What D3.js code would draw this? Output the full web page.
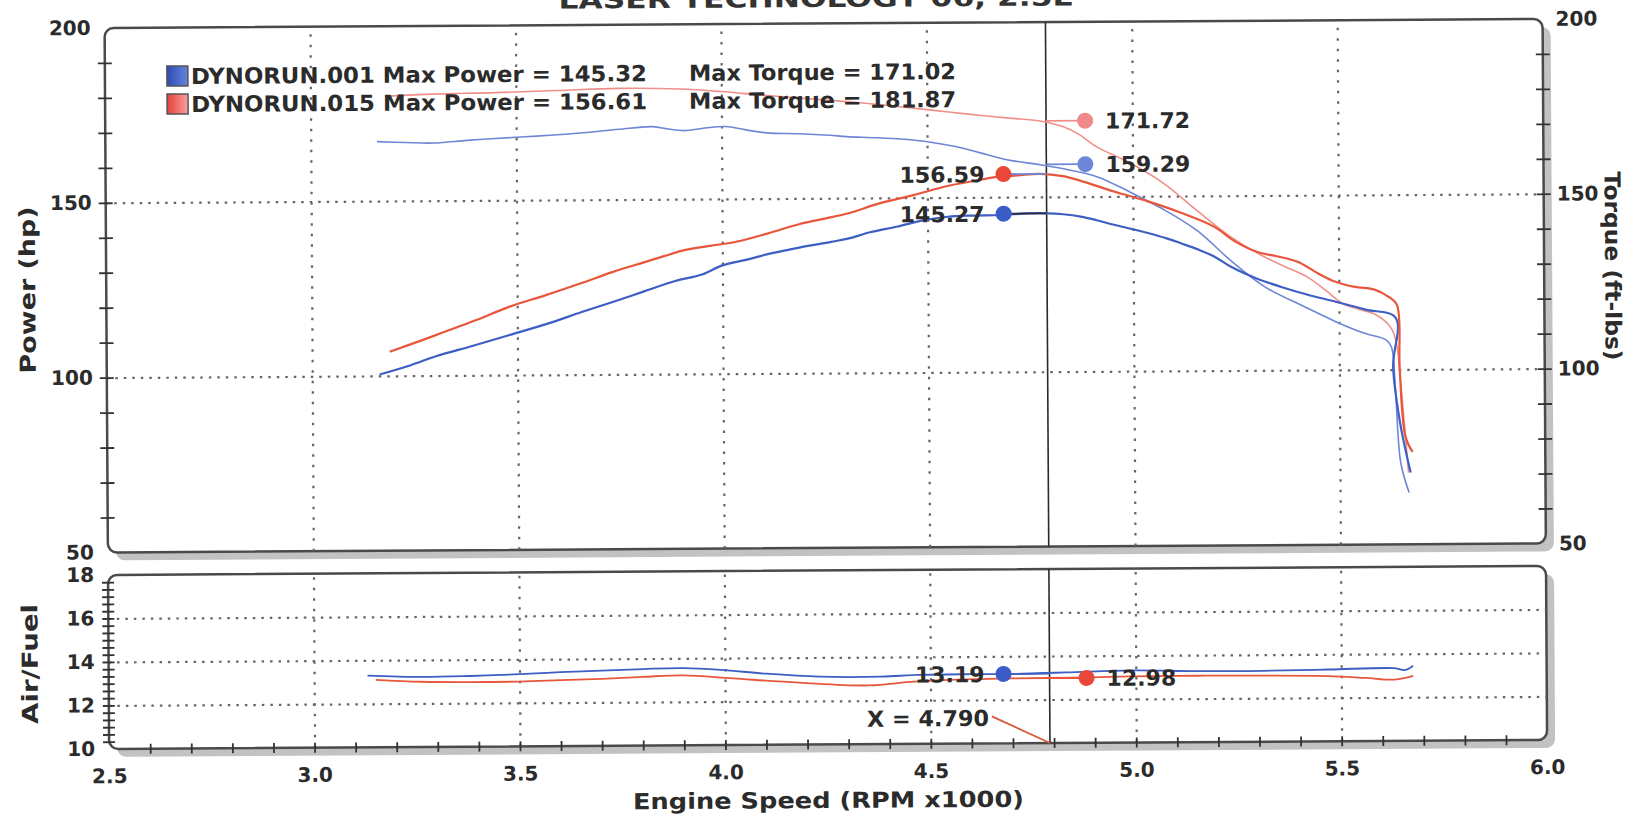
<!DOCTYPE html>
<html>
<head>
<meta charset="utf-8">
<script src="https://cdn.jsdelivr.net/npm/d3@7"></script>
<style>
body { margin: 0; background: #fff; }
svg { display: block; font-family: "DejaVu Sans", Verdana, sans-serif; font-weight: bold; }
</style>
</head>
<body>
<div id="dyno"></div>
<script>
// values
const rpmTicks = [2.5, 3.0, 3.5, 4.0, 4.5, 5.0, 5.5, 6.0];
const powerTicks = [50, 100, 150, 200];
const afrTicks = [10, 12, 14, 16, 18];
const gridRpm = [3.0, 3.5, 4.0, 4.5, 5.0, 5.5];
const gridPower = [100, 150];
const gridAfr = [12, 14, 16];

const runNames = ["DYNORUN.001", "DYNORUN.015"];
const maxPower = [145.32, 156.61];
const maxTorque = [171.02, 181.87];

const cursorRpm = 4.790;
const cursorPower = [145.27, 156.59];
const cursorTorque = [159.29, 171.72];
const cursorAfr = [13.19, 12.98];

// [rpm x1000, value]
const run001Power = [[3.164,100.4],[3.24,103.0],[3.303,105.6],[3.39,108.4],[3.479,111.4],[3.57,114.5],[3.657,117.9],[3.74,121.0],[3.809,123.7],[3.885,126.6],[3.95,128.4],[4.0,131.0],[4.06,132.6],[4.113,134.2],[4.19,136.0],[4.265,137.5],[4.306,138.4],[4.36,140.2],[4.427,141.8],[4.49,143.5],[4.549,144.5],[4.61,144.8],[4.678,144.9],[4.74,145.3],[4.792,145.3],[4.83,145.0],[4.873,144.3],[4.91,143.3],[4.954,141.9],[5.0,140.6],[5.036,139.5],[5.08,138.0],[5.116,136.5],[5.16,134.6],[5.198,132.6],[5.239,129.6],[5.30,126.3],[5.358,123.9],[5.42,121.7],[5.492,119.5],[5.565,117.2],[5.638,114.8],[5.631,100.8],[5.647,84.8],[5.672,70.5]];
const run001Torque = [[3.161,167.0],[3.23,166.7],[3.30,166.5],[3.38,167.2],[3.45,167.7],[3.55,168.3],[3.655,169.1],[3.75,170.1],[3.832,170.8],[3.87,170.1],[3.91,169.6],[3.96,170.3],[4.01,170.7],[4.06,169.7],[4.11,168.8],[4.19,168.5],[4.263,168.0],[4.304,167.6],[4.38,167.2],[4.466,166.5],[4.52,165.6],[4.572,164.5],[4.63,162.7],[4.694,160.7],[4.775,159.2],[4.84,157.8],[4.913,155.7],[4.994,151.2],[5.076,146.1],[5.157,140.0],[5.237,131.5],[5.321,123.8],[5.41,118.5],[5.492,113.8],[5.56,110.5],[5.614,108.5],[5.627,106.5],[5.636,95.0],[5.648,73.4],[5.668,64.8]];
const run015Power = [[3.189,106.9],[3.26,109.8],[3.328,112.7],[3.40,115.8],[3.48,119.5],[3.57,122.8],[3.657,126.2],[3.73,129.2],[3.809,132.0],[3.86,133.8],[3.91,135.5],[3.97,136.6],[4.037,137.8],[4.11,140.0],[4.189,142.7],[4.25,144.2],[4.305,145.6],[4.385,148.5],[4.468,150.8],[4.549,153.3],[4.61,154.6],[4.67,155.8],[4.72,156.2],[4.775,156.6],[4.83,155.9],[4.872,154.6],[4.954,151.4],[5.035,148.6],[5.115,145.3],[5.197,141.2],[5.25,136.8],[5.304,133.8],[5.35,132.6],[5.40,131.0],[5.45,127.6],[5.492,125.2],[5.539,123.7],[5.587,122.9],[5.621,120.8],[5.641,118.5],[5.647,100.0],[5.66,80.8],[5.677,76.4]];
const run015Torque = [[3.19,180.0],[3.30,180.5],[3.45,180.8],[3.60,181.3],[3.75,181.8],[3.90,181.5],[4.0,180.7],[4.10,179.6],[4.20,178.6],[4.304,177.6],[4.40,176.5],[4.506,175.1],[4.60,173.8],[4.70,172.6],[4.775,171.7],[4.832,170.0],[4.87,167.8],[4.913,164.2],[4.993,159.6],[5.076,153.6],[5.154,146.0],[5.236,138.4],[5.32,132.4],[5.37,129.6],[5.424,126.6],[5.47,122.6],[5.507,119.1],[5.55,117.2],[5.59,115.7],[5.626,112.0],[5.639,107.7],[5.65,95.0],[5.667,70.5]];
const run001Afr = [[3.13,13.3],[3.26,13.22],[3.38,13.25],[3.5,13.32],[3.60,13.4],[3.70,13.46],[3.80,13.52],[3.90,13.55],[3.99,13.46],[4.10,13.27],[4.23,13.12],[4.38,13.1],[4.47,13.17],[4.60,13.19],[4.70,13.19],[4.83,13.24],[4.99,13.32],[5.15,13.26],[5.31,13.26],[5.47,13.3],[5.63,13.34],[5.655,13.25],[5.675,13.45]];
const run015Afr = [[3.15,13.1],[3.26,13.0],[3.38,12.97],[3.5,12.98],[3.60,13.03],[3.70,13.08],[3.80,13.16],[3.90,13.22],[4.02,13.06],[4.18,12.85],[4.35,12.7],[4.46,12.86],[4.58,12.95],[4.70,12.98],[4.85,13.0],[4.99,13.04],[5.15,13.05],[5.31,13.04],[5.47,13.0],[5.56,12.9],[5.63,12.82],[5.675,12.98]];

const W = 1633, H = 816;
const L = 107, R = 1545;
const pTop = 23.5, pBot = 548, aTop = 570.5, aBot = 744.5;
const ink = "#2b2b2b";
const blue = "#3d5fc4", red = "#e8563c", lightBlue = "#6e86d6", pink = "#f0908a";

const x = d3.scaleLinear().domain([2.5, 6.0]).range([L, R]);
const yP = d3.scaleLinear().domain([50, 200]).range([pBot, pTop]);
const yA = d3.scaleLinear().domain([10, 18]).range([aBot, aTop]);

const svg = d3.select("#dyno").append("svg")
    .attr("width", W)
    .attr("height", H);

const defs = svg.append("defs");
[["swBlue", "#2c4cb4", "#6584da"], ["swRed", "#e4403c", "#f8a29c"]].forEach(([id, c0, c1]) => {
  const gr = defs.append("linearGradient").attr("id", id);
  gr.append("stop").attr("offset", "0%").attr("stop-color", c0);
  gr.append("stop").attr("offset", "100%").attr("stop-color", c1);
});

// the scanned sheet sits slightly skewed
const g = svg.append("g").attr("transform", "rotate(-0.36,816,408)");

// title, mostly cut off by the top of the scan
g.append("text")
    .attr("x", 561).attr("y", 7)
    .attr("textLength", 514).attr("lengthAdjust", "spacingAndGlyphs")
    .style("font-size", "24px").attr("fill", "#333")
    .text("LASER TECHNOLOGY 06, 2.5L");

function panel(y0, y1) {
  g.append("rect")
      .attr("x", L + 8).attr("y", y0 + 8)
      .attr("width", R - L).attr("height", y1 - y0)
      .attr("rx", 9).attr("fill", "#c2c2c2");
  g.append("rect")
      .attr("x", L).attr("y", y0)
      .attr("width", R - L).attr("height", y1 - y0)
      .attr("rx", 9).attr("fill", "#fff")
      .attr("stroke", "#4a4a4a").attr("stroke-width", 2.5);
}
panel(pTop, pBot);
panel(aTop, aBot);

function grid(yScale, y0, y1, yVals) {
  g.append("g")
      .attr("transform", `translate(0,${y1})`)
      .call(d3.axisBottom(x).tickValues(gridRpm).tickSize(-(y1 - y0)).tickFormat(""))
      .call(a => a.select(".domain").remove())
      .call(a => a.selectAll(".tick line")
          .attr("stroke", "#666").attr("stroke-width", 2.2).attr("stroke-dasharray", "2.5,8"));
  g.append("g")
      .attr("transform", `translate(${L},0)`)
      .call(d3.axisLeft(yScale).tickValues(yVals).tickSize(-(R - L)).tickFormat(""))
      .call(a => a.select(".domain").remove())
      .call(a => a.selectAll(".tick line")
          .attr("stroke", "#666").attr("stroke-width", 2.2).attr("stroke-dasharray", "2.5,6"));
}
grid(yP, pTop, pBot, gridPower);
grid(yA, aTop, aBot, gridAfr);

// crossing tick marks along the frames
function crossTicks(axis, tx, ty, vals, half, vertical) {
  g.append("g")
      .attr("transform", `translate(${tx},${ty})`)
      .call(axis.tickValues(vals).tickFormat("").tickSize(half).tickSizeOuter(0))
      .call(a => a.select(".domain").remove())
      .call(a => a.selectAll(".tick line")
          .attr(vertical ? "y1" : "x1", half)
          .attr(vertical ? "y2" : "x2", -half)
          .attr("stroke", "#333").attr("stroke-width", 1.8));
}
const powerMinor = d3.range(60, 200, 10);
crossTicks(d3.axisLeft(yP), L, 0, powerMinor, 7, false);
crossTicks(d3.axisRight(yP), R, 0, powerMinor, 7, false);
crossTicks(d3.axisLeft(yA), L, 0, d3.range(10 + 1 / 3, 17.9, 1 / 3), 6, false);
crossTicks(d3.axisBottom(x), 0, aBot, d3.range(2.6, 5.95, 0.1), 5, true);

// tick labels
function labels(axis, tx, ty, pad) {
  g.append("g")
      .attr("transform", `translate(${tx},${ty})`)
      .call(axis.tickSize(0).tickPadding(pad))
      .call(a => a.select(".domain").remove())
      .call(a => a.selectAll("text")
          .attr("fill", ink).style("font-size", "20px").style("font-family", "DejaVu Sans").style("font-weight", "bold"));
}
labels(d3.axisLeft(yP).tickValues(powerTicks), L, 0, 14);
labels(d3.axisRight(yP).tickValues(powerTicks), R, 0, 13);
labels(d3.axisLeft(yA).tickValues(afrTicks), L, 0, 14);
labels(d3.axisBottom(x).tickValues(rpmTicks).tickFormat(d3.format(".1f")), 0, aBot, 20);

// axis titles
function title(txt, tx, ty, rot, len) {
  g.append("text")
      .attr("transform", `translate(${tx},${ty}) rotate(${rot})`)
      .attr("text-anchor", "middle")
      .attr("textLength", len).attr("lengthAdjust", "spacingAndGlyphs")
      .attr("fill", ink).style("font-size", "22px")
      .text(txt);
}
title("Power (hp)", 36, 285, -90, 167);
title("Air/Fuel", 36, 659, -90, 120);
title("Torque (ft-lbs)", 1606, 271, 90, 189);
title("Engine Speed (RPM x1000)", 826, 808, 0, 391);

// cursor line in both panels
[[pTop, pBot], [aTop, aBot]].forEach(([y0, y1]) => {
  g.append("line")
      .attr("x1", x(cursorRpm)).attr("x2", x(cursorRpm))
      .attr("y1", y0).attr("y2", y1)
      .attr("stroke", "#2a2a2a").attr("stroke-width", 1.6);
});

// curves
const line = (yScale) => d3.line()
    .x(d => x(d[0]))
    .y(d => yScale(d[1]))
    .curve(d3.curveCatmullRom.alpha(0.5));

const curves = [
  [run015Torque, yP, pink, 1.6],
  [run001Torque, yP, lightBlue, 1.6],
  [run001Power, yP, blue, 2.2],
  [run015Power, yP, red, 2.2],
  [run001Afr, yA, blue, 1.8],
  [run015Afr, yA, red, 1.8]
];
curves.forEach(([data, yScale, color, w]) => {
  g.append("path")
      .datum(data)
      .attr("d", line(yScale))
      .attr("fill", "none")
      .attr("stroke", color)
      .attr("stroke-width", w)
      .attr("stroke-linejoin", "round");
});

// cursor readouts: dot offset left or right of the cursor, label beside the dot
function readout(yScale, value, dx, color, leader) {
  const cx = x(cursorRpm) + dx, cy = yScale(value);
  g.append("line")
      .attr("x1", x(cursorRpm)).attr("x2", cx)
      .attr("y1", cy).attr("y2", cy)
      .attr("stroke", leader).attr("stroke-width", 1.8);
  g.append("circle")
      .attr("cx", cx).attr("cy", cy).attr("r", 8)
      .attr("fill", color);
  g.append("text")
      .attr("x", dx < 0 ? cx - 19 : cx + 20)
      .attr("y", cy + 8)
      .attr("text-anchor", dx < 0 ? "end" : "start")
      .attr("fill", ink).style("font-size", "22px")
      .text(value.toFixed(2));
}
readout(yP, cursorPower[0], -43, "#3a5cc6", "#2a2a40");
readout(yP, cursorPower[1], -43, "#e8473a", lightBlue);
readout(yP, cursorTorque[0], 39, "#6c86d8", lightBlue);
readout(yP, cursorTorque[1], 39, "#f08a8a", pink);
readout(yA, cursorAfr[0], -46, "#3a5cc6", blue);
readout(yA, cursorAfr[1], 37, "#e8473a", red);

// cursor position tag
g.append("line")
    .attr("x1", 990).attr("y1", 717.5)
    .attr("x2", x(cursorRpm)).attr("y2", aBot)
    .attr("stroke", "#d9583a").attr("stroke-width", 1.8);
g.append("text")
    .attr("x", 987).attr("y", 727)
    .attr("text-anchor", "end")
    .attr("textLength", 122).attr("lengthAdjust", "spacingAndGlyphs")
    .attr("fill", ink).style("font-size", "22px")
    .text("X = " + cursorRpm.toFixed(3));

// legend
const legend = g.append("g");
runNames.forEach((name, i) => {
  const yb = 80 + i * 28;
  legend.append("rect")
      .attr("x", 169).attr("y", yb - 18)
      .attr("width", 21).attr("height", 20)
      .attr("fill", i === 0 ? "url(#swBlue)" : "url(#swRed)")
      .attr("stroke", "#555").attr("stroke-width", 1.5);
  legend.append("text")
      .attr("x", 193).attr("y", yb)
      .attr("textLength", 456).attr("lengthAdjust", "spacingAndGlyphs")
      .attr("fill", ink).style("font-size", "22px")
      .text(`${name} Max Power = ${maxPower[i].toFixed(2)}`);
  legend.append("text")
      .attr("x", 691).attr("y", yb)
      .attr("textLength", 267).attr("lengthAdjust", "spacingAndGlyphs")
      .attr("fill", ink).style("font-size", "22px")
      .text(`Max Torque = ${maxTorque[i].toFixed(2)}`);
});
</script>
</body>
</html>
